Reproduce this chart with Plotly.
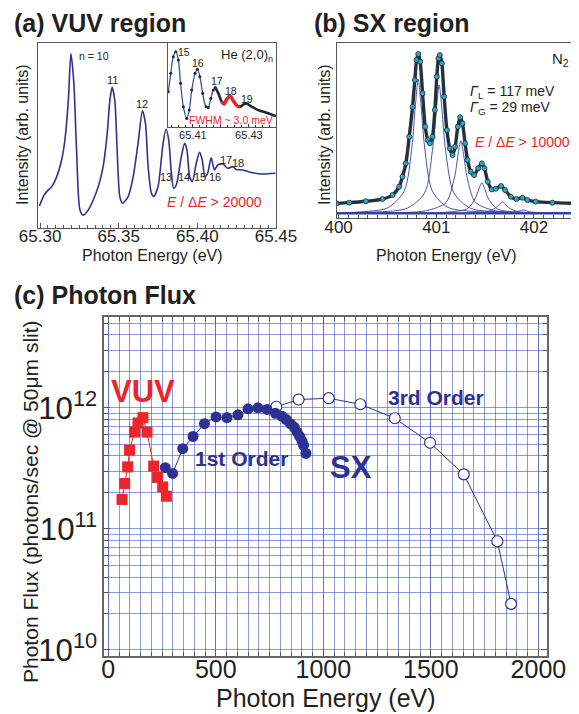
import plotly.graph_objects as go

# page body has an 8px margin, so the figure is drawn 8px in from the window corner
OFF = 8
W, H = 579 - OFF, 714 - OFF
FONT = "Liberation Sans, Arial, Helvetica, sans-serif"
NAVY = "#2e3192"
RED = "#e8262b"
TXT = "#231f20"

def PX(x):
    return (x - OFF) / W

def PY(y):
    return 1 - (y - OFF) / H

# ---------------- (a) VUV region: He (2,0)n series ----------------
vuv_E = [65.2996, 65.3021, 65.3042, 65.3074, 65.3106, 65.3137, 65.3158, 65.3180, 65.3196,
         65.3215, 65.3232, 65.3254, 65.3275, 65.3306, 65.3338, 65.3370, 65.3401, 65.3427,
         65.3444, 65.3458, 65.3475, 65.3490, 65.3507, 65.3524, 65.3560, 65.3592, 65.3623,
         65.3651, 65.3670, 65.3687, 65.3708, 65.3723, 65.3750, 65.3782, 65.3801, 65.3818,
         65.3835, 65.3849, 65.3866, 65.3898, 65.3919, 65.3934, 65.3951, 65.3968, 65.3993,
         65.4014, 65.4031, 65.4048, 65.4065, 65.4088, 65.4109, 65.4130, 65.4162, 65.4194,
         65.4225, 65.4246, 65.4289, 65.4352, 65.4415, 65.4496]
vuv_I = [11.7, 16.8, 19.5, 22.2, 27.6, 36.6, 47.4, 69.0, 94.2,
         78.0, 42.0, 9.5, 6.8, 9.5, 15.0, 22.2, 33.0, 51.0,
         69.0, 75.9, 69.0, 42.0, 16.8, 13.2, 16.8, 27.6, 45.6,
         63.2, 56.4, 33.0, 18.6, 16.8, 22.2, 45.6, 53.2, 47.4,
         29.4, 21.3, 23.1, 38.4, 45.6, 42.0, 27.6, 24.9, 34.8,
         40.7, 36.6, 27.6, 29.4, 37.8, 31.2, 33.9, 34.4, 32.1,
         33.0, 31.5, 31.2, 29.7, 29.0, 29.4]

inset_E = [65.4012, 65.4021, 65.4030, 65.4039, 65.4048, 65.4056, 65.4066, 65.4078, 65.4087,
           65.4096, 65.4108, 65.4116, 65.4125, 65.4135, 65.4147, 65.4155, 65.4164, 65.4173,
           65.4180, 65.4191, 65.4203, 65.4211, 65.4221, 65.4233, 65.4244, 65.4259, 65.4268,
           65.4280, 65.4292, 65.4304, 65.4322, 65.4340, 65.4363, 65.4397]
inset_I = [41.7, 63.5, 83.3, 89.3, 79.4, 51.6, 23.8, 9.9, 19.8,
           43.7, 63.5, 68.3, 59.5, 39.7, 23.8, 23.0, 33.7, 43.7,
           46.8, 39.7, 29.8, 27.0, 32.5, 36.5, 31.0, 24.6, 23.8,
           26.2, 27.8, 25.0, 21.8, 19.0, 16.7, 12.7]
i17, i18a, i18b = 18, 20, 26   # indices: peak 17, start/end of highlighted peak 18

# ---------------- (b) SX region: N2 1s -> pi* ----------------
sx_E = [399.980, 400.109, 400.279, 400.450, 400.552, 400.620, 400.654, 400.688, 400.723,
        400.757, 400.780, 400.798, 400.815, 400.835, 400.859, 400.886, 400.913, 400.934,
        400.961, 400.985, 401.005, 401.022, 401.036, 401.057, 401.080, 401.108, 401.138,
        401.166, 401.193, 401.220, 401.244, 401.268, 401.295, 401.319, 401.353, 401.387,
        401.428, 401.466, 401.493, 401.527, 401.568, 401.609, 401.663, 401.704, 401.762,
        401.820, 401.881, 401.933, 402.018, 402.188, 402.410]
sx_I = [5.9, 6.3, 7.1, 8.4, 10.8, 15.7, 21.6, 29.4, 45.1,
        62.7, 78.4, 90.2, 93.7, 89.2, 70.6, 51.0, 43.1, 41.2,
        45.1, 60.8, 80.4, 91.2, 93.1, 88.2, 68.6, 49.0, 38.2,
        34.3, 39.2, 51.0, 56.5, 52.9, 41.2, 31.4, 24.5, 22.5,
        26.5, 29.4, 26.5, 18.6, 14.1, 14.5, 16.1, 13.7, 9.8,
        8.4, 9.2, 7.8, 6.9, 6.3, 5.9]

comp_E = [
    [399.98, 400.2, 400.5, 400.67, 400.75, 400.785, 400.815, 400.845, 400.88, 400.96, 401.12, 401.45, 402.0, 402.42],
    [399.98, 400.3, 400.7, 400.88, 400.96, 400.999, 401.029, 401.059, 401.095, 401.18, 401.35, 401.7, 402.42],
    [399.98, 400.4, 400.9, 401.1, 401.186, 401.221, 401.251, 401.281, 401.316, 401.4, 401.6, 402.0, 402.42],
    [399.98, 400.6, 401.1, 401.32, 401.40, 401.436, 401.466, 401.496, 401.53, 401.62, 401.8, 402.42],
    [399.98, 401.0, 401.4, 401.53, 401.61, 401.647, 401.677, 401.707, 401.74, 401.83, 402.0, 402.42],
    [399.98, 401.4, 401.74, 401.82, 401.858, 401.888, 401.918, 401.95, 402.04, 402.42],
]
comp_I = [
    [0.4, 0.8, 3.2, 13.0, 39.0, 63.0, 78.8, 63.0, 39.0, 13.0, 3.5, 0.9, 0.3, 0.2],
    [0.3, 0.6, 3.0, 12.0, 37.0, 60.0, 75.5, 60.0, 37.0, 12.0, 3.0, 0.8, 0.2],
    [0.2, 0.3, 1.6, 6.5, 21.0, 34.0, 42.7, 34.0, 21.0, 6.5, 1.6, 0.4, 0.2],
    [0.1, 0.2, 0.7, 2.8, 9.0, 14.4, 18.0, 14.4, 9.0, 2.8, 0.7, 0.1],
    [0.0, 0.1, 0.4, 1.1, 3.4, 5.4, 6.7, 5.4, 3.4, 1.1, 0.3, 0.05],
    [0.0, 0.05, 0.35, 1.0, 1.6, 2.0, 1.6, 1.0, 0.35, 0.05],
]
base_E = [399.98, 402.42]
base_I = [0.0, 0.0]

# ---------------- (c) Photon flux ----------------
vuvf_E = [64, 76, 90, 99, 122, 138, 161, 180, 211, 229, 253, 270]
vuvf_F = [1.75e11, 2.37e11, 3.25e11, 4.47e11, 6.3e11, 7.5e11, 8.3e11, 6.3e11, 3.3e11, 2.66e11, 2.22e11, 1.86e11]

first_E = [265, 299, 346, 394, 447, 501, 552, 603, 650, 696, 738, 777, 808, 828, 847, 865, 878, 890, 901, 908, 919]
first_F = [3.2e11, 2.87e11, 4.6e11, 5.8e11, 7.4e11, 8.4e11, 8.3e11, 8.75e11, 9.8e11, 1.0e12, 9.7e11,
           9.0e11, 8.5e11, 8.0e11, 7.4e11, 6.9e11, 6.3e11, 5.8e11, 5.3e11, 4.9e11, 4.2e11]

third_E = [781, 885, 1025, 1172, 1332, 1496, 1653, 1809, 1873]
third_F = [1.02e12, 1.17e12, 1.2e12, 1.07e12, 8.2e11, 5.14e11, 2.82e11, 7.9e10, 2.4e10]

fig = go.Figure()

# (a) main
fig.add_trace(go.Scatter(x=vuv_E, y=vuv_I, mode="lines", line=dict(color=NAVY, width=1.6, shape="spline", smoothing=0.7),
                         xaxis="x", yaxis="y", hoverinfo="skip"))
# (a) inset
fig.add_trace(go.Scatter(x=inset_E[:i17 + 1], y=inset_I[:i17 + 1], mode="lines+markers",
                         line=dict(color="#3a4fb0", width=1.3, shape="spline"),
                         marker=dict(size=3, color="#1f2a30"), xaxis="x2", yaxis="y2", hoverinfo="skip"))
fig.add_trace(go.Scatter(x=inset_E[i17:], y=inset_I[i17:], mode="lines",
                         line=dict(color="#1f2a30", width=2.6, shape="spline"),
                         xaxis="x2", yaxis="y2", hoverinfo="skip"))
fig.add_trace(go.Scatter(x=inset_E[i18a:i18b + 1], y=inset_I[i18a:i18b + 1], mode="lines",
                         line=dict(color=RED, width=3.5, shape="spline"),
                         xaxis="x2", yaxis="y2", hoverinfo="skip"))

# (b)
for ce, ci in zip(comp_E, comp_I):
    fig.add_trace(go.Scatter(x=ce, y=ci, mode="lines", line=dict(color="#3340a0", width=0.9, shape="spline", smoothing=0.8),
                             xaxis="x3", yaxis="y3", hoverinfo="skip"))
fig.add_trace(go.Scatter(x=base_E, y=base_I, mode="lines", line=dict(color="#3340a0", width=2.2),
                         xaxis="x3", yaxis="y3", hoverinfo="skip"))
fig.add_trace(go.Scatter(x=sx_E, y=sx_I, mode="lines+markers",
                         line=dict(color="#23323a", width=3.4, shape="spline", smoothing=0.7),
                         marker=dict(size=5, color="#2aa8c8", line=dict(color="#1d2b33", width=0.8)),
                         xaxis="x3", yaxis="y3", hoverinfo="skip"))

# (c)
fig.add_trace(go.Scatter(x=vuvf_E, y=vuvf_F, mode="lines+markers", line=dict(color=RED, width=1),
                         marker=dict(symbol="square", size=11, color=RED), xaxis="x4", yaxis="y4", hoverinfo="skip"))
fig.add_trace(go.Scatter(x=third_E, y=third_F, mode="lines+markers", line=dict(color=NAVY, width=1),
                         marker=dict(symbol="circle", size=11, color="white", line=dict(color=NAVY, width=1.2)),
                         xaxis="x4", yaxis="y4", hoverinfo="skip"))
fig.add_trace(go.Scatter(x=first_E, y=first_F, mode="lines+markers", line=dict(color=NAVY, width=1),
                         marker=dict(symbol="circle", size=11, color=NAVY), xaxis="x4", yaxis="y4", hoverinfo="skip"))

frame = dict(showline=True, linecolor="#555555", linewidth=1.2, mirror=True, zeroline=False, showgrid=False,
             automargin=False)
GRID = "rgba(70,90,185,0.62)"

fig.update_layout(
    width=W, height=H, margin=dict(l=0, r=0, t=0, b=0, autoexpand=False), showlegend=False,
    paper_bgcolor="white", plot_bgcolor="white",
    font=dict(family=FONT, color=TXT),
    xaxis=dict(**frame, domain=[PX(37.7), PX(276)], range=[65.2985, 65.45], anchor="y",
               tickvals=[65.30, 65.35, 65.40, 65.45], ticktext=["65.30", "65.35", "65.40", "65.45"],
               ticks="inside", ticklen=5, tickcolor="#555555", ticklabelstandoff=-7,
               minor=dict(dtick=0.005, tick0=65.30, ticks="inside", ticklen=3, tickcolor="#555555"),
               tickfont=dict(size=17, color=TXT)),
    yaxis=dict(**frame, domain=[PY(227.7), PY(42.7)], range=[0, 100], anchor="x", showticklabels=False, ticks=""),
    xaxis2=dict(**frame, domain=[PX(167.7), PX(276)], range=[65.401, 65.4397], anchor="y2",
                tickvals=[65.41, 65.42, 65.43], ticktext=["65.41", "", "65.43"],
                ticks="inside", ticklen=3, tickcolor="#333333", ticklabelstandoff=-2,
                minor=dict(dtick=0.0025, tick0=65.40, ticks="inside", ticklen=2, tickcolor="#333333"),
                tickfont=dict(size=11, color=TXT)),
    yaxis2=dict(**frame, domain=[PY(126.7), PY(42.7)], range=[0, 100], anchor="x2", showticklabels=False, ticks=""),
    xaxis3=dict(**frame, domain=[PX(336.7), PX(575)], range=[399.98, 402.42], anchor="y3",
                tickvals=[400, 401, 402], ticks="inside", ticklen=5, tickcolor="#555555", ticklabelstandoff=-7,
                minor=dict(dtick=0.1, tick0=400, ticks="inside", ticklen=3, tickcolor="#555555"),
                tickfont=dict(size=17, color=TXT)),
    yaxis3=dict(**frame, domain=[PY(218.3), PY(43.3)], range=[-2.9, 100], anchor="x3", showticklabels=False, ticks=""),
    xaxis4=dict(showline=True, linecolor="#666666", linewidth=1.5, mirror="allticks", zeroline=False, automargin=False,
                domain=[PX(104), PX(547)], range=[-20, 2040], anchor="y4",
                tickvals=[0, 500, 1000, 1500, 2000], ticks="inside", ticklen=6, tickcolor="#555555",
                ticklabelstandoff=-10,
                showgrid=True, gridcolor=GRID, gridwidth=1.2,
                minor=dict(dtick=50, tick0=0, ticks="inside", ticklen=4, tickcolor="#555555",
                           showgrid=True, gridcolor=GRID, gridwidth=1.2),
                tickfont=dict(size=25, color=TXT)),
    yaxis4=dict(type="log", showline=True, linecolor="#666666", linewidth=1.5, mirror="allticks", zeroline=False,
                automargin=False,
                domain=[PY(656), PY(317)], range=[9.95, 12.75], anchor="x4",
                dtick=1, exponentformat="power", showexponent="all",
                ticks="inside", ticklen=6, tickcolor="#555555",
                showgrid=True, gridcolor=GRID, gridwidth=1.2,
                minor=dict(dtick="D1", ticks="inside", ticklen=4, tickcolor="#555555",
                           showgrid=True, gridcolor=GRID, gridwidth=1.2),
                tickfont=dict(size=25, color=TXT)),
)

ann = []

def A(text, x, y, size, color=TXT, xanchor="center", yanchor="middle", angle=0, bold=False):
    ann.append(dict(text=(f"<b>{text}</b>" if bold else text), x=PX(x), y=PY(y), xref="paper", yref="paper",
                    showarrow=False, xanchor=xanchor, yanchor=yanchor, textangle=angle,
                    font=dict(size=size, color=color, family=FONT)))

# titles
A("(a) VUV region", 12, 23, 25, xanchor="left", bold=True)
A("(b) SX region", 312, 23, 25, xanchor="left", bold=True)
A("(c) Photon Flux", 12, 295, 25, xanchor="left", bold=True)
# axis titles
A("Intensity (arb. units)", 22, 135, 16, angle=-90)
A("Photon Energy (eV)", 152, 255, 16)
A("Intensity (arb. units)", 324, 135, 16, angle=-90)
A("Photon Energy (eV)", 446, 255, 16)
A("Photon Flux (photons/sec @ 50μm slit)", 30, 502, 21, angle=-90)
A("Photon Energy (eV)", 326, 698, 25)

# (a) labels
A("n = 10", 77, 56, 10.5, xanchor="left")
for t, x, y in [("11", 112, 80), ("12", 142, 104), ("13", 166, 177), ("14", 184, 177), ("15", 200, 177),
                ("16", 215, 177), ("17", 226, 160), ("18", 238, 163)]:
    A(t, x, y, 11)
A("<i>E</i> / Δ<i>E</i> > 20000", 214, 202, 14, color=RED)
# inset labels
for t, x, y in [("15", 184, 52), ("16", 198, 63), ("17", 217, 81), ("18", 231, 91), ("19", 247, 99)]:
    A(t, x, y, 10.5)
A("He (2,0)<sub>n</sub>", 275, 55, 13, xanchor="right")
A("FWHM ~ 3.0 meV", 275, 120, 10.5, color=RED, xanchor="right")

# (b) labels
A("N<sub>2</sub>", 571, 60, 15, xanchor="right")
A("<i>Γ</i><sub>L</sub> = 117 meV", 468, 92, 14, xanchor="left")
A("<i>Γ</i><sub>G</sub> = 29 meV", 468, 108, 14, xanchor="left")
A("<i>E</i> / Δ<i>E</i> > 10000", 473, 142, 14, color=RED, xanchor="left")

# (c) labels
A("VUV", 143, 391, 31, color=RED, bold=True)
A("1st Order", 241, 458, 21, color=NAVY, bold=True)
A("SX", 351, 467, 31, color=NAVY, bold=True)
A("3rd Order", 436, 397, 21, color=NAVY, bold=True)

fig.update_layout(annotations=ann)
fig.write_html("out.html")
